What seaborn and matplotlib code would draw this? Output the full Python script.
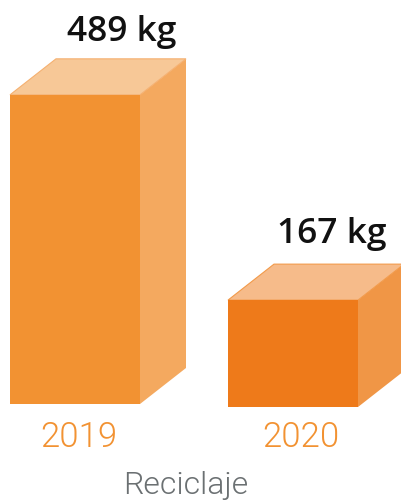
import matplotlib
matplotlib.use("Agg")
import matplotlib.pyplot as plt
from matplotlib.patches import Polygon
from matplotlib.transforms import ScaledTranslation
import pandas as pd
import seaborn as sns

years = ["2019", "2020"]
weights = [489, 167]
value_labels = ["489 kg", "167 kg"]
group_label = "Reciclaje"

front_colors = ["#F29232", "#EE7A1A"]
side_colors = ["#F4A95F", "#F09646"]
top_colors = ["#F7C897", "#F6BB8A"]
edge_colors = ["#F5B070", "#F29A4A"]
axis_color = "#F29232"
label_color = "#6B7072"

W, H = 402, 501
sns.set_theme(style="white")
plt.rcParams["font.family"] = ["Open Sans", "DejaVu Sans"]
fig = plt.figure(figsize=(W / 100, H / 100), dpi=100)

baselines_px = [404, 407]      # baseline, px from the top
ylim_tops = [639, 636]         # kg at the top of each axes
cx0, step = 75, 218            # px of first bar centre, px between bars
depth_x, depth_y = 46, 36      # px of 3-D depth
text_dx = [47, 39]
text_dy = [54, 57]

df = pd.DataFrame({"year": years, "kg": weights})
axes = []
for i, (year, base) in enumerate(zip(years, baselines_px)):
    ax = fig.add_axes([0, (H - base) / H, 1, base / H])
    ax.patch.set_alpha(0)
    sns.barplot(data=df[df.year == year], x="year", y="kg", order=years,
                color=front_colors[i], saturation=1, width=130 / step, ax=ax,
                zorder=3, linewidth=0, edgecolor="none")
    ax.set_xlim(-cx0 / step, (W - cx0) / step)
    ax.set_ylim(0, ylim_tops[i])
    sns.despine(ax=ax, left=True, bottom=True)
    ax.set_yticks([])
    ax.set_ylabel("")
    ax.set_xlabel("")
    dx = depth_x / step
    dy = depth_y * ylim_tops[i] / base
    bar = ax.patches[0]
    x0, x1, h = bar.get_x(), bar.get_x() + bar.get_width(), bar.get_height()
    ax.add_patch(Polygon([(x1, 0), (x1 + dx, dy), (x1 + dx, h + dy), (x1, h)],
                         closed=True, fc=side_colors[i], ec="none", zorder=2, clip_on=False))
    ax.add_patch(Polygon([(x0, h), (x0 + dx, h + dy), (x1 + dx, h + dy), (x1, h)],
                         closed=True, fc=top_colors[i], ec=edge_colors[i], lw=0.8, zorder=2, clip_on=False))
    ax.annotate(value_labels[i], xy=(i, h), xytext=(text_dx[i] * 0.72, text_dy[i] * 0.72),
                textcoords="offset points", ha="center", va="baseline",
                fontsize=25.5, fontweight="semibold", color="#111111")
    axes.append(ax)

ax = axes[0]
ax.set_xticks(range(len(years)), years)
ax.tick_params(axis="x", length=0, pad=12, labelsize=25, labelcolor=axis_color)
for lab, shift in zip(ax.get_xticklabels(), [4, 8]):
    lab.set_fontfamily("Roboto")
    lab.set_fontweight(300)
    lab.set_transform(lab.get_transform() + ScaledTranslation(shift / 100, 0, fig.dpi_scale_trans))
axes[1].set_xticks([])
ax.set_xlabel(group_label, fontsize=23, fontfamily="Roboto", fontweight=300,
              color=label_color)
ax.xaxis.set_label_coords(186 / W, -(494 - 404) / 404, transform=ax.transAxes)
ax.xaxis.label.set_va("baseline")
fig.savefig("out.png", dpi=100)
